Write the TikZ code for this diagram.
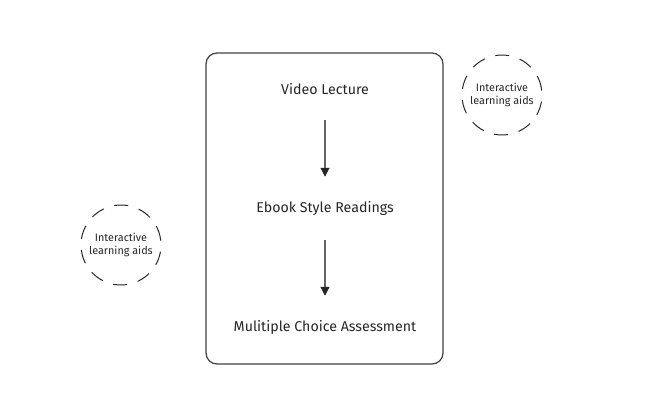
\documentclass[tikz,border=0pt]{standalone}
\usepackage{fontspec}
\setmainfont{Fira Sans}
\usetikzlibrary{arrows.meta}
\begin{document}
\begin{tikzpicture}[x=1pt,y=-1pt,
  step text/.style={font=\fontsize{14.2}{16}\selectfont, text=black!85, inner sep=2pt},
  aid/.style={circle, draw=black!85, line width=1pt, dash pattern=on 14pt off 11pt,
    minimum size=80pt, inner sep=0pt},
  aid text/.style={font=\fontsize{10.8}{13}\selectfont, align=center, text=black!85},
  flow/.style={draw=black!60, line width=1.1pt, -{Triangle[length=9pt,width=9pt,fill=black!85,color=black!85]}}]
\useasboundingbox (0,0) rectangle (650,418);
\draw[black!75, line width=1.2pt, rounded corners=11pt] (206,53) rectangle (443,364);
\node[step text] (vl) at (325,89) {Video Lecture};
\node[step text] (eb) at (325,208) {Ebook Style Readings};
\node[step text] (mc) at (325,327) {Mulitiple Choice Assessment};
\draw[flow, shorten <=23pt, shorten >=22pt] (vl) -- (eb);
\draw[flow, shorten <=23pt, shorten >=22pt] (eb) -- (mc);
\node[aid, rotate=8] (a1) at (502,95) {};
\node[aid text] (t1) at (502,95) {Interactive\\learning aids};
\node[aid, rotate=8] (a2) at (121,245) {};
\node[aid text] (t2) at (121,245) {Interactive\\learning aids};
\end{tikzpicture}
\end{document}
